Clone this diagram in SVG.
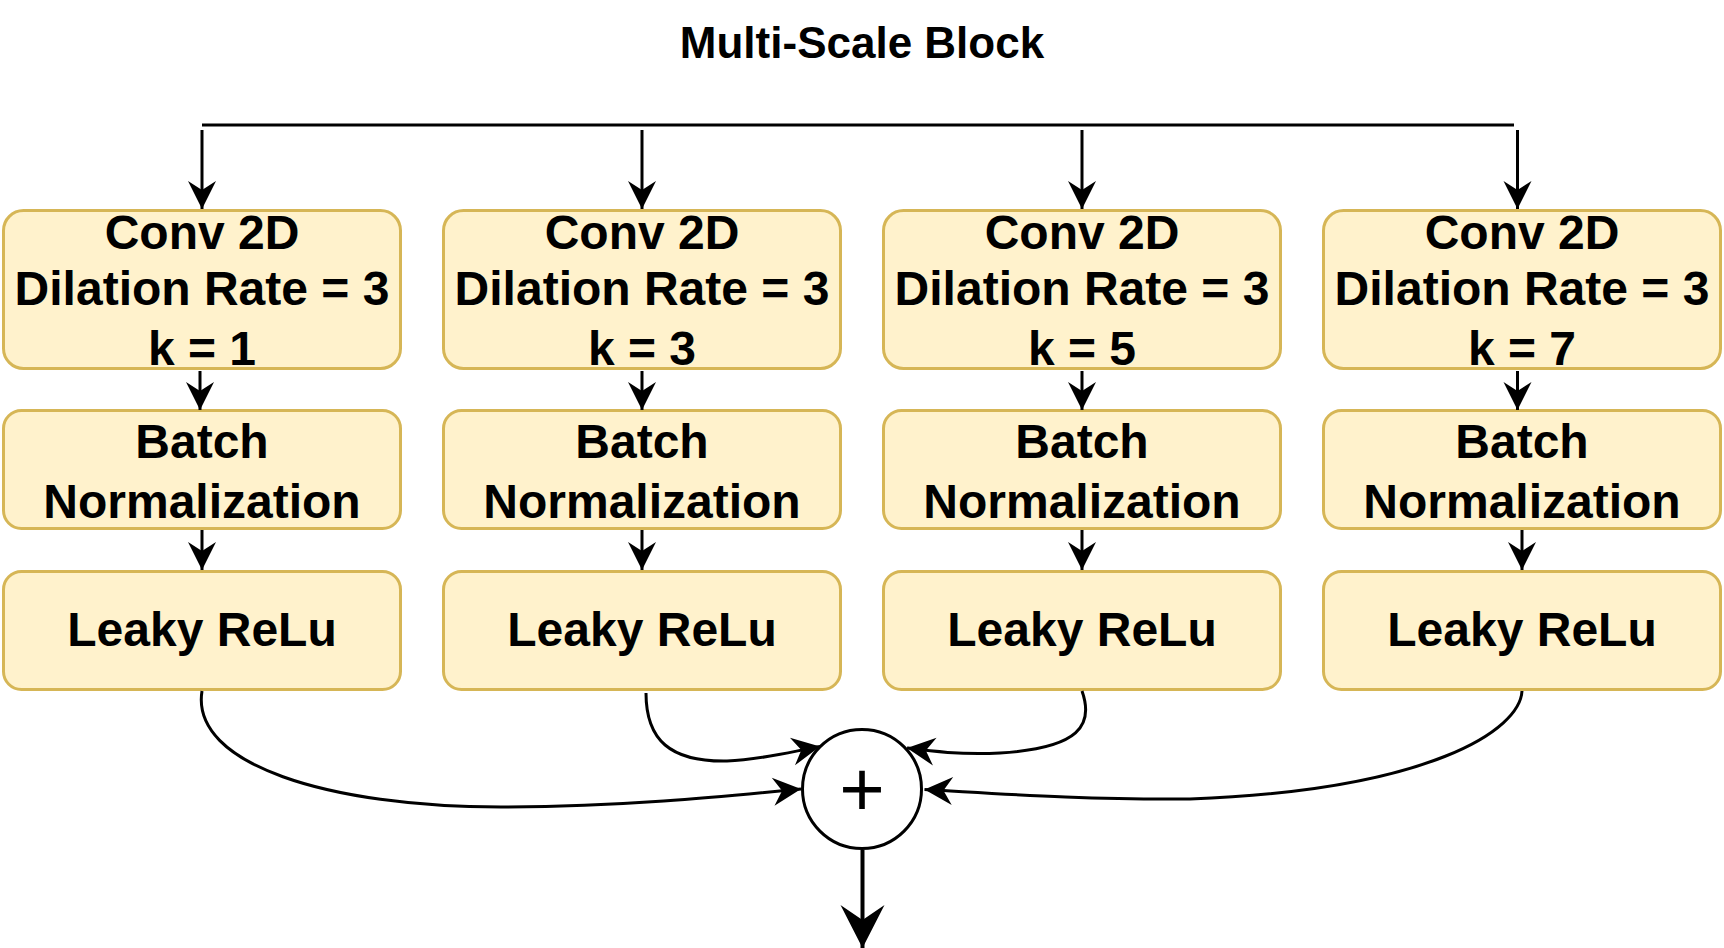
<svg xmlns="http://www.w3.org/2000/svg" width="1724" height="948" viewBox="0 0 1724 948">
  <style>
    .box { fill: #fff2cc; stroke: #d6b656; stroke-width: 3; }
    .lbl { font-family: "Liberation Sans", Arial, sans-serif; font-weight: bold; font-size: 48px; fill: #000; text-anchor: middle; }
    .title { font-family: "Liberation Sans", Arial, sans-serif; font-weight: bold; font-size: 44px; fill: #000; text-anchor: middle; }
    .edge { fill: none; stroke: #000; stroke-width: 3; }
    .plus { font-family: "Liberation Sans", Arial, sans-serif; font-size: 78px; fill: #000; text-anchor: middle; }
  </style>
  <defs>
    <marker id="arr" markerUnits="userSpaceOnUse" markerWidth="30" markerHeight="30" viewBox="-29 -15 30 30" refX="0" refY="0" orient="auto" overflow="visible">
      <path d="M0,0 L-28,-14 L-19,0 L-28,14 Z" fill="#000"/>
    </marker>
    <marker id="arrBig" markerUnits="userSpaceOnUse" markerWidth="46" markerHeight="46" viewBox="-44 -23 46 46" refX="0" refY="0" orient="auto" overflow="visible">
      <path d="M0,0 L-43,-22 L-28,0 L-43,22 Z" fill="#000"/>
    </marker>
  </defs>

  <g id="title">
    <text class="title" x="862" y="58">Multi-Scale Block</text>
  </g>

  <g id="conv1">
    <rect class="box" x="3.5" y="210.5" width="397" height="158" rx="20"/>
    <text class="lbl" x="202" y="249">Conv 2D</text>
    <text class="lbl" x="202" y="305">Dilation Rate = 3</text>
    <text class="lbl" x="202" y="365">k = 1</text>
  </g>
  <g id="conv2">
    <rect class="box" x="443.5" y="210.5" width="397" height="158" rx="20"/>
    <text class="lbl" x="642" y="249">Conv 2D</text>
    <text class="lbl" x="642" y="305">Dilation Rate = 3</text>
    <text class="lbl" x="642" y="365">k = 3</text>
  </g>
  <g id="conv3">
    <rect class="box" x="883.5" y="210.5" width="397" height="158" rx="20"/>
    <text class="lbl" x="1082" y="249">Conv 2D</text>
    <text class="lbl" x="1082" y="305">Dilation Rate = 3</text>
    <text class="lbl" x="1082" y="365">k = 5</text>
  </g>
  <g id="conv4">
    <rect class="box" x="1323.5" y="210.5" width="397" height="158" rx="20"/>
    <text class="lbl" x="1522" y="249">Conv 2D</text>
    <text class="lbl" x="1522" y="305">Dilation Rate = 3</text>
    <text class="lbl" x="1522" y="365">k = 7</text>
  </g>

  <g id="bn1">
    <rect class="box" x="3.5" y="410.5" width="397" height="118" rx="18"/>
    <text class="lbl" x="202" y="458">Batch</text>
    <text class="lbl" x="202" y="517.5">Normalization</text>
  </g>
  <g id="bn2">
    <rect class="box" x="443.5" y="410.5" width="397" height="118" rx="18"/>
    <text class="lbl" x="642" y="458">Batch</text>
    <text class="lbl" x="642" y="517.5">Normalization</text>
  </g>
  <g id="bn3">
    <rect class="box" x="883.5" y="410.5" width="397" height="118" rx="18"/>
    <text class="lbl" x="1082" y="458">Batch</text>
    <text class="lbl" x="1082" y="517.5">Normalization</text>
  </g>
  <g id="bn4">
    <rect class="box" x="1323.5" y="410.5" width="397" height="118" rx="18"/>
    <text class="lbl" x="1522" y="458">Batch</text>
    <text class="lbl" x="1522" y="517.5">Normalization</text>
  </g>

  <g id="relu1">
    <rect class="box" x="3.5" y="571.5" width="397" height="118" rx="18"/>
    <text class="lbl" x="202" y="646">Leaky ReLu</text>
  </g>
  <g id="relu2">
    <rect class="box" x="443.5" y="571.5" width="397" height="118" rx="18"/>
    <text class="lbl" x="642" y="646">Leaky ReLu</text>
  </g>
  <g id="relu3">
    <rect class="box" x="883.5" y="571.5" width="397" height="118" rx="18"/>
    <text class="lbl" x="1082" y="646">Leaky ReLu</text>
  </g>
  <g id="relu4">
    <rect class="box" x="1323.5" y="571.5" width="397" height="118" rx="18"/>
    <text class="lbl" x="1522" y="646">Leaky ReLu</text>
  </g>

  <g id="sum">
    <circle cx="862" cy="789" r="59.5" fill="#fff" stroke="#000" stroke-width="3"/>
    <text class="plus" x="862" y="816">+</text>
  </g>

  <g id="connectors">
    <path class="edge" d="M202,125 H1514"/>
    <path class="edge" d="M202,130 V209" marker-end="url(#arr)"/>
    <path class="edge" d="M642,130 V209" marker-end="url(#arr)"/>
    <path class="edge" d="M1082,130 V209" marker-end="url(#arr)"/>
    <path class="edge" d="M1517.5,130 V209" marker-end="url(#arr)"/>

    <path class="edge" d="M200,371 V410" marker-end="url(#arr)"/>
    <path class="edge" d="M642,371 V410" marker-end="url(#arr)"/>
    <path class="edge" d="M1082,371 V410" marker-end="url(#arr)"/>
    <path class="edge" d="M1517.5,371 V410" marker-end="url(#arr)"/>

    <path class="edge" d="M202,530 V570" marker-end="url(#arr)"/>
    <path class="edge" d="M642,530 V570" marker-end="url(#arr)"/>
    <path class="edge" d="M1082,530 V570" marker-end="url(#arr)"/>
    <path class="edge" d="M1522,530 V570" marker-end="url(#arr)"/>

    <path class="edge" d="M202,691 C190,765 330,807 501,807 C620,807 720,797 801,789" marker-end="url(#arr)"/>
    <path class="edge" d="M646,693 C646,740 670,762 727,761 C760,760 790,752 820,746.5" marker-end="url(#arr)"/>
    <path class="edge" d="M1082,691 C1094,725 1080,748 1000,753 C960,755 930,751 907,748" marker-end="url(#arr)"/>
    <path class="edge" d="M1522,691 C1520,730 1430,790 1190,799 C1080,800 990,793 924.5,789.5" marker-end="url(#arr)"/>

    <path d="M862.5,850 V948" fill="none" stroke="#000" stroke-width="4" marker-end="url(#arrBig)"/>
  </g>
</svg>
